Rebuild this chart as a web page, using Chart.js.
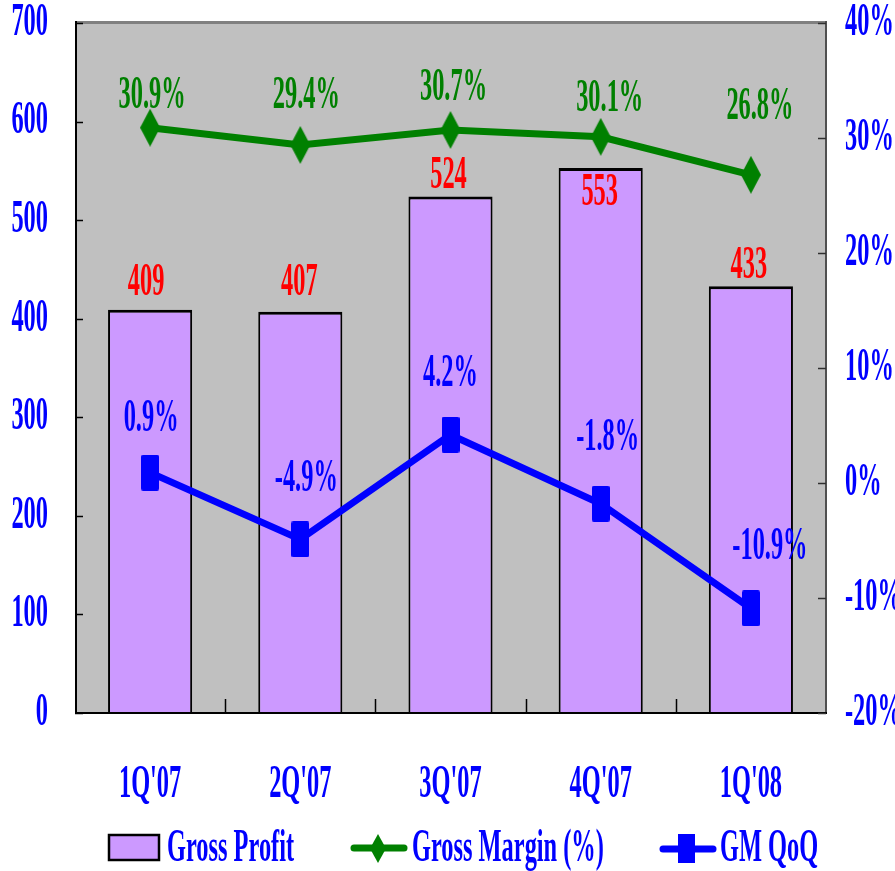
<!DOCTYPE html>
<html>
<head>
<meta charset="utf-8">
<script src="https://cdn.jsdelivr.net/npm/chart.js@4.4.1/dist/chart.umd.min.js"></script>
<style>
html,body{margin:0;padding:0;background:#ffffff;}
#wrap{width:895px;height:871px;}
</style>
</head>
<body>
<div id="wrap"><canvas id="c" width="895" height="871"></canvas></div>
<script>
// ---- data ----
const categories = ["1Q'07", "2Q'07", "3Q'07", "4Q'07", "1Q'08"];
const grossProfit = [409, 407, 524, 553, 433];
const grossMargin = [30.9, 29.4, 30.7, 30.1, 26.8];
const gmQoQ = [0.9, -4.9, 4.2, -1.8, -10.9];
const leftTicks = [0, 100, 200, 300, 400, 500, 600, 700];
const rightTicks = [-20, -10, 0, 10, 20, 30, 40];
const seriesNames = ["Gross Profit", "Gross Margin (%)", "GM QoQ"];

// ---- label nudges (pixels, relative to the mark) ----
const nudgeGP = [[-4, -30], [-1, -32], [-2, -24], [-1, 22], [-2, -24]];
const nudgeGM = [[2, -35], [6, -52], [3, -45], [9, -41], [9, -71]];
const nudgeQQ = [[1, -57], [6, -64], [0, -64], [7, -69], [19, -65]];

// ---- condensed serif text (horizontal squeeze) ----
const SX = 0.53;
(function () {
  const P = CanvasRenderingContext2D.prototype;
  const f = P.fillText, m = P.measureText;
  P.fillText = function (t, x, y) {
    this.save(); this.translate(x, y); this.scale(SX, 1);
    f.call(this, t, 0, 0);
    this.restore();
  };
  P.measureText = function (t) {
    const r = m.call(this, t);
    return {
      width: r.width * SX,
      actualBoundingBoxAscent: r.actualBoundingBoxAscent,
      actualBoundingBoxDescent: r.actualBoundingBoxDescent,
      actualBoundingBoxLeft: r.actualBoundingBoxLeft * SX,
      actualBoundingBoxRight: r.actualBoundingBoxRight * SX
    };
  };
})();

const FONT_FAMILY = '"Liberation Serif", "Times New Roman", serif';
const FSIZE = 46;
const FONT_CSS = 'bold ' + FSIZE + 'px ' + FONT_FAMILY;
const BLUE = '#0000ff', GREEN = '#008000', RED = '#ff0000', PURPLE = '#cc99ff';

function makeMarker(w, h, color, shape) {
  const c = document.createElement('canvas');
  c.width = w; c.height = h;
  const g = c.getContext('2d');
  g.fillStyle = color;
  g.beginPath();
  if (shape === 'diamond') {
    g.moveTo(w / 2, 0); g.lineTo(w, h / 2); g.lineTo(w / 2, h); g.lineTo(0, h / 2); g.closePath();
  } else {
    if (g.roundRect) g.roundRect(0, 0, w, h, 2); else g.rect(0, 0, w, h);
  }
  g.fill();
  return c;
}
const diamond = makeMarker(20, 38, GREEN, 'diamond');
const square = makeMarker(18, 36, BLUE, 'square');

const decorPlugin = {
  id: 'decor',
  beforeDraw(chart) {
    const { ctx, chartArea: a } = chart;
    ctx.save();
    ctx.fillStyle = '#ffffff';
    ctx.fillRect(0, 0, chart.width, chart.height);
    ctx.fillStyle = '#c0c0c0';
    ctx.fillRect(a.left, a.top, a.right - a.left, a.bottom - a.top);
    ctx.restore();
  },
  afterDatasetsDraw(chart) {
    const { ctx, chartArea: a } = chart;
    const sy = chart.scales.y, sy1 = chart.scales.y1, sx = chart.scales.x;
    ctx.save();
    // plot frame
    ctx.lineWidth = 3; ctx.strokeStyle = '#808080';
    ctx.beginPath(); ctx.moveTo(a.left, a.top - 0.5); ctx.lineTo(a.right, a.top - 0.5); ctx.stroke();
    ctx.lineWidth = 2; ctx.strokeStyle = '#505050';
    ctx.beginPath(); ctx.moveTo(a.right, a.top - 2); ctx.lineTo(a.right, a.bottom + 1); ctx.stroke();
    ctx.strokeStyle = '#000000';
    ctx.beginPath(); ctx.moveTo(a.left + 1, a.top - 2); ctx.lineTo(a.left + 1, a.bottom + 1); ctx.stroke();
    ctx.beginPath(); ctx.moveTo(a.left, a.bottom); ctx.lineTo(a.right + 1, a.bottom); ctx.stroke();
    // inward tick marks
    ctx.lineWidth = 1.5; ctx.strokeStyle = '#000000';
    sy.ticks.forEach((t, i) => {
      const y = Math.round(sy.getPixelForTick(i)) + 0.5;
      ctx.beginPath(); ctx.moveTo(a.left, y); ctx.lineTo(a.left + 8, y); ctx.stroke();
    });
    ctx.strokeStyle = '#303030';
    sy1.ticks.forEach((t, i) => {
      const y = Math.round(sy1.getPixelForTick(i)) + 0.5;
      ctx.beginPath(); ctx.moveTo(a.right - 8, y); ctx.lineTo(a.right, y); ctx.stroke();
    });
    ctx.strokeStyle = '#000000';
    for (let i = 1; i < sx.ticks.length; i++) {
      const x = Math.round((sx.getPixelForTick(i - 1) + sx.getPixelForTick(i)) / 2) + 0.5;
      ctx.beginPath(); ctx.moveTo(x, a.bottom); ctx.lineTo(x, a.bottom - 14); ctx.stroke();
    }
    // data labels
    ctx.font = FONT_CSS;
    ctx.textAlign = 'center';
    ctx.textBaseline = 'alphabetic';
    const half = 15.5;
    const drawLabels = (dsIndex, color, nudges, fmt) => {
      const meta = chart.getDatasetMeta(dsIndex);
      const vals = chart.data.datasets[dsIndex].data;
      ctx.fillStyle = color;
      meta.data.forEach((el, i) => {
        const n = nudges[i];
        ctx.fillText(fmt(vals[i]), el.x + n[0], el.y + n[1] + half);
      });
    };
    drawLabels(0, RED, nudgeGP, v => String(v));
    drawLabels(1, GREEN, nudgeGM, v => v.toFixed(1) + '%');
    drawLabels(2, BLUE, nudgeQQ, v => v.toFixed(1) + '%');
    ctx.restore();
  },
  afterDraw(chart) {
    const ctx = chart.ctx;
    const ds = chart.data.datasets;
    const base = 861;
    ctx.save();
    ctx.font = FONT_CSS;
    ctx.textAlign = 'left';
    ctx.textBaseline = 'alphabetic';
    // Gross Profit box
    ctx.fillStyle = ds[0].backgroundColor;
    ctx.fillRect(109, 835, 50, 25);
    ctx.lineWidth = 2.5; ctx.strokeStyle = '#000000';
    ctx.strokeRect(109, 835, 50, 25);
    ctx.fillStyle = BLUE;
    ctx.fillText(ds[0].label, 167, base);
    // Gross Margin line + diamond
    ctx.lineCap = 'round';
    ctx.strokeStyle = ds[1].borderColor; ctx.lineWidth = 7;
    ctx.beginPath(); ctx.moveTo(354, 848); ctx.lineTo(404, 848); ctx.stroke();
    ctx.fillStyle = ds[1].borderColor;
    ctx.beginPath(); ctx.moveTo(378, 834); ctx.lineTo(386, 848.5); ctx.lineTo(378, 863); ctx.lineTo(370, 848.5); ctx.closePath(); ctx.fill();
    ctx.fillStyle = BLUE;
    ctx.fillText(ds[1].label, 412, base);
    // GM QoQ line + square
    ctx.strokeStyle = ds[2].borderColor;
    ctx.beginPath(); ctx.moveTo(663, 849); ctx.lineTo(713, 849); ctx.stroke();
    ctx.fillStyle = ds[2].borderColor;
    ctx.fillRect(678, 834, 17, 29);
    ctx.fillStyle = BLUE;
    ctx.fillText(ds[2].label, 720, base);
    ctx.restore();
  }
};

const tickFont = { family: FONT_FAMILY, size: FSIZE, weight: 'bold' };
const zeroPad = s => { s.paddingTop = 0; s.paddingBottom = 0; s.paddingLeft = 0; s.paddingRight = 0; };

new Chart(document.getElementById('c'), {
  type: 'bar',
  data: {
    labels: categories,
    datasets: [
      {
        type: 'bar', label: seriesNames[0], data: grossProfit, yAxisID: 'y',
        backgroundColor: PURPLE, borderColor: '#000000',
        borderWidth: { top: 3, left: 2, right: 2, bottom: 0 }, borderSkipped: false,
        categoryPercentage: 1, barPercentage: 0.56, order: 3
      },
      {
        type: 'line', label: seriesNames[1], data: grossMargin, yAxisID: 'y1',
        borderColor: GREEN, backgroundColor: GREEN, borderWidth: 7, tension: 0,
        pointStyle: diamond, pointRadius: 10, order: 2
      },
      {
        type: 'line', label: seriesNames[2], data: gmQoQ, yAxisID: 'y1',
        borderColor: BLUE, backgroundColor: BLUE, borderWidth: 7, tension: 0,
        pointStyle: square, pointRadius: 10, order: 1
      }
    ]
  },
  options: {
    responsive: false, animation: false, devicePixelRatio: 1,
    layout: { padding: { top: 23, left: 0, right: 0, bottom: 0 } },
    plugins: { legend: { display: false }, tooltip: { enabled: false } },
    scales: {
      x: {
        type: 'category', offset: true,
        grid: { display: false, offset: true, drawTicks: false }, border: { display: false },
        ticks: { color: BLUE, font: tickFont, padding: 45, maxRotation: 0, autoSkip: false },
        afterFit: s => { s.height = 158; zeroPad(s); }
      },
      y: {
        position: 'left', min: 0, max: 700,
        afterBuildTicks: s => { s.ticks = leftTicks.map(v => ({ value: v })); },
        grid: { display: false, drawTicks: false }, border: { display: false },
        ticks: { color: BLUE, font: tickFont, padding: 27 },
        afterFit: s => { s.width = 75; zeroPad(s); }
      },
      y1: {
        position: 'right', min: -20, max: 40,
        afterBuildTicks: s => { s.ticks = rightTicks.map(v => ({ value: v })); },
        grid: { display: false, drawTicks: false }, border: { display: false },
        ticks: { color: BLUE, font: tickFont, padding: 19, callback: v => v + '%' },
        afterFit: s => { s.width = 69; zeroPad(s); }
      }
    }
  },
  plugins: [decorPlugin]
});
</script>
</body>
</html>
